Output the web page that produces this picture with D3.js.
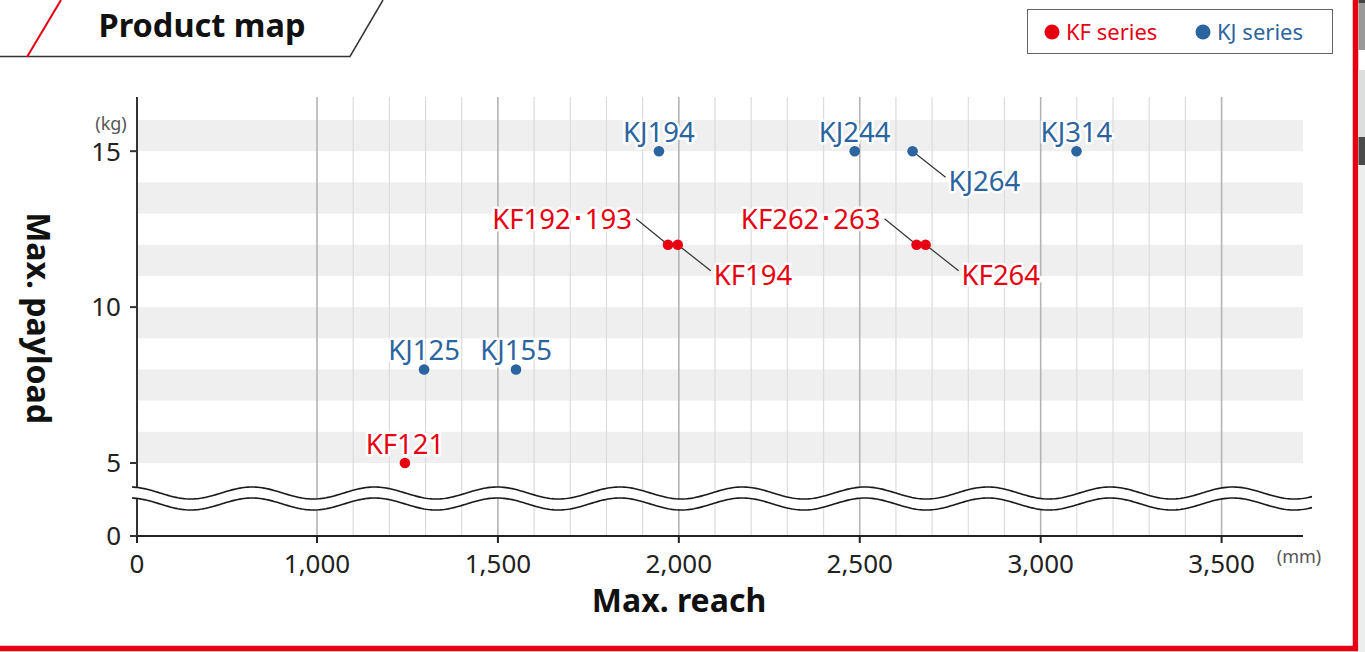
<!DOCTYPE html>
<html>
<head>
<meta charset="utf-8">
<script src="https://cdn.jsdelivr.net/npm/d3@7"></script>
<style>
  html, body { margin: 0; padding: 0; background: #fff; overflow: hidden; }
  svg { display: block; font-family: "Noto Sans", "Open Sans", sans-serif; }
  .halo { paint-order: stroke; stroke: #fff; stroke-width: 5px; stroke-linejoin: round; }
</style>
</head>
<body>
<svg id="chart" width="1365" height="652"></svg>
<script>
// --- DATA ---
const productNames = ["KF121", "KJ125", "KJ155", "KJ194", "KF192･193", "KF194", "KJ244", "KJ264", "KF262･263", "KF264", "KJ314"];
const productSeries = ["KF", "KJ", "KJ", "KJ", "KF", "KF", "KJ", "KJ", "KF", "KF", "KJ"];
const productReach = [1243, 1296, 1550, 1945, 1970, 1997, 2486, 2646, 2657, 2682, 3099];
const productPayload = [5, 8, 8, 15, 12, 12, 15, 15, 12, 12, 15];
const labelPlacement = ["top", "top", "top", "top", "left", "right", "top", "right", "left", "right", "top"];

const xTicks = [0, 1000, 1500, 2000, 2500, 3000, 3500];
const xMinorTicks = d3.range(1100, 3500, 100).filter(v => v % 500 !== 0);
const yTicks = [0, 5, 10, 15];
const yBands = [5, 7, 9, 11, 13, 15];

const seriesNames = ["KF", "KJ"];
const seriesLabels = ["KF series", "KJ series"];
const seriesColors = ["#e60012", "#2b649e"];

// --- SCALES ---
const svg = d3.select("#chart");
const x = d3.scaleLinear().domain([0, 1000, 3725]).range([137, 317, 1303]);
const y = d3.scaleLinear().domain([0, 5, 16]).range([536, 463, 120]);
const color = d3.scaleOrdinal().domain(seriesNames).range(seriesColors);
const plotTop = 97;

// --- FRAME & TITLE TAB ---
svg.append("path")
  .attr("d", "M0,56.5H350L383,0")
  .attr("fill", "none").attr("stroke", "#333").attr("stroke-width", 1.5);
svg.append("line")
  .attr("x1", 27).attr("y1", 57).attr("x2", 61).attr("y2", 0)
  .attr("stroke", "#e60012").attr("stroke-width", 2);
svg.append("text")
  .attr("x", 202).attr("y", 37)
  .attr("text-anchor", "middle")
  .attr("font-size", 32.5).attr("font-weight", 700).attr("fill", "#111")
  .text("Product map");

// red outer border (right + bottom)
svg.append("path")
  .attr("d", "M1355.5,0V648.5H0")
  .attr("fill", "none").attr("stroke", "#e60012").attr("stroke-width", 5.5);

// scrollbar strip
svg.append("rect").attr("x", 1358.5).attr("y", 0).attr("width", 7).attr("height", 3).attr("fill", "#444");
svg.append("rect").attr("x", 1358.5).attr("y", 3).attr("width", 7).attr("height", 47).attr("fill", "#999");
svg.append("rect").attr("x", 1358.5).attr("y", 70).attr("width", 7).attr("height", 582).attr("fill", "#eceded");
svg.append("rect").attr("x", 1358.5).attr("y", 70).attr("width", 7).attr("height", 67).attr("fill", "#dcdedd");
svg.append("rect").attr("x", 1358.5).attr("y", 137).attr("width", 7).attr("height", 28).attr("fill", "#4a4a4a");

// --- LEGEND ---
const legend = svg.append("g");
legend.append("rect")
  .attr("x", 1027.5).attr("y", 9.5).attr("width", 305).attr("height", 44)
  .attr("fill", "#fff").attr("stroke", "#666").attr("stroke-width", 1);
const legendX = [1052, 1203];
seriesNames.forEach((s, i) => {
  legend.append("circle").attr("cx", legendX[i]).attr("cy", 32).attr("r", 7.5).attr("fill", color(s));
  legend.append("text")
    .attr("x", legendX[i] + 14).attr("y", 40)
    .attr("font-size", 22).attr("fill", color(s))
    .text(seriesLabels[i]);
});

// --- GRID ---
const grid = svg.append("g");
grid.selectAll("rect.band").data(yBands).join("rect")
  .attr("class", "band")
  .attr("x", x(0)).attr("width", x.range()[2] - x(0))
  .attr("y", d => y(d + 1)).attr("height", d => y(d) - y(d + 1))
  .attr("fill", "#efefef");
grid.selectAll("line.minor").data(xMinorTicks).join("line")
  .attr("class", "minor")
  .attr("x1", d => x(d)).attr("x2", d => x(d))
  .attr("y1", plotTop).attr("y2", y(0))
  .attr("stroke", "#dcdcdc").attr("stroke-width", 1.2);
grid.selectAll("line.major").data(xTicks.filter(d => d > 0)).join("line")
  .attr("class", "major")
  .attr("x1", d => x(d)).attr("x2", d => x(d))
  .attr("y1", plotTop).attr("y2", y(0))
  .attr("stroke", "#b4b4b4").attr("stroke-width", 1.6);

// --- AXES ---
const axisG = svg.append("g");
axisG.append("line")
  .attr("x1", x(0)).attr("x2", x(0)).attr("y1", plotTop).attr("y2", y(0))
  .attr("stroke", "#333").attr("stroke-width", 2);
axisG.append("line")
  .attr("x1", x(0)).attr("x2", x.range()[2]).attr("y1", y(0)).attr("y2", y(0))
  .attr("stroke", "#222").attr("stroke-width", 2);

axisG.selectAll("line.ytick").data(yTicks).join("line")
  .attr("class", "ytick")
  .attr("x1", x(0) - 7).attr("x2", x(0)).attr("y1", d => y(d)).attr("y2", d => y(d))
  .attr("stroke", "#333").attr("stroke-width", 2);
axisG.selectAll("text.ytick").data(yTicks).join("text")
  .attr("class", "ytick")
  .attr("x", x(0) - 16).attr("y", d => y(d)).attr("dy", "0.36em")
  .attr("text-anchor", "end").attr("font-size", 26).attr("fill", "#222")
  .text(d => d);

axisG.selectAll("line.xtick").data(xTicks).join("line")
  .attr("class", "xtick")
  .attr("x1", d => x(d)).attr("x2", d => x(d)).attr("y1", y(0)).attr("y2", y(0) + 7)
  .attr("stroke", "#222").attr("stroke-width", 2);
axisG.selectAll("text.xtick").data(xTicks).join("text")
  .attr("class", "xtick")
  .attr("x", d => x(d)).attr("y", 573)
  .attr("text-anchor", "middle").attr("font-size", 26).attr("fill", "#222")
  .text(d3.format(","));

// units
svg.append("text").attr("x", 111).attr("y", 130).attr("text-anchor", "middle")
  .attr("font-size", 18).attr("fill", "#555").text("(kg)");
svg.append("text").attr("x", 1299).attr("y", 563).attr("text-anchor", "middle")
  .attr("font-size", 18).attr("fill", "#555").text("(mm)");

// axis titles
svg.append("text").attr("x", 679).attr("y", 612).attr("text-anchor", "middle")
  .attr("font-size", 32).attr("font-weight", 700).attr("fill", "#111").text("Max. reach");
svg.append("text")
  .attr("transform", "translate(27,318) rotate(90)")
  .attr("text-anchor", "middle")
  .attr("font-size", 32).attr("font-weight", 700).attr("fill", "#111").text("Max. payload");

// --- AXIS BREAK (wavy) ---
const waveC = y(0) - 43, waveAmp = 6, wavePeriod = 122.6, waveGap = 11;
const waveXs = d3.range(132, 1312.5, 2);
const phase = xv => Math.cos(2 * Math.PI * (xv - 252) / wavePeriod);
const topWave = waveXs.map(xv => [xv, waveC - waveAmp * phase(xv)]);
const botWave = waveXs.map(xv => [xv, waveC + waveGap - waveAmp * phase(xv)]);
svg.append("path")
  .attr("d", d3.area().x(d => d[0]).y0(d => d[1]).y1((d, i) => botWave[i][1])(topWave))
  .attr("fill", "#fff");
[topWave, botWave].forEach(w => {
  svg.append("path").attr("d", d3.line()(w))
    .attr("fill", "none").attr("stroke", "#1a1a1a").attr("stroke-width", 1.6);
});

// --- POINTS & LABELS ---
const data = productNames.map((name, i) => ({
  name, series: productSeries[i], reach: productReach[i], payload: productPayload[i], place: labelPlacement[i]
}));

const labelG = svg.append("g");
data.forEach(d => {
  const px = x(d.reach), py = y(d.payload);
  if (d.place === "left") {
    labelG.append("line").attr("x1", px).attr("y1", py).attr("x2", px - 32).attr("y2", py - 26)
      .attr("stroke", "#333").attr("stroke-width", 1.2);
  } else if (d.place === "right") {
    labelG.append("line").attr("x1", px).attr("y1", py).attr("x2", px + 33).attr("y2", py + 26)
      .attr("stroke", "#333").attr("stroke-width", 1.2);
  }
});

svg.append("g").selectAll("circle").data(data).join("circle")
  .attr("cx", d => x(d.reach)).attr("cy", d => y(d.payload))
  .attr("r", 5.3).attr("fill", d => color(d.series));

svg.append("g").selectAll("text").data(data).join("text")
  .attr("class", "halo")
  .attr("font-size", 27.5)
  .attr("fill", d => color(d.series))
  .attr("x", d => {
    const px = x(d.reach);
    if (d.place === "left") return px - 36;
    if (d.place === "right") return px + 36;
    return px;
  })
  .attr("y", d => {
    const py = y(d.payload);
    if (d.place === "left") return py - 16;
    if (d.place === "right") return py + 40;
    return py - 9;
  })
  .attr("text-anchor", d => d.place === "left" ? "end" : (d.place === "right" ? "start" : "middle"))
  .text(d => d.name);
</script>
</body>
</html>
